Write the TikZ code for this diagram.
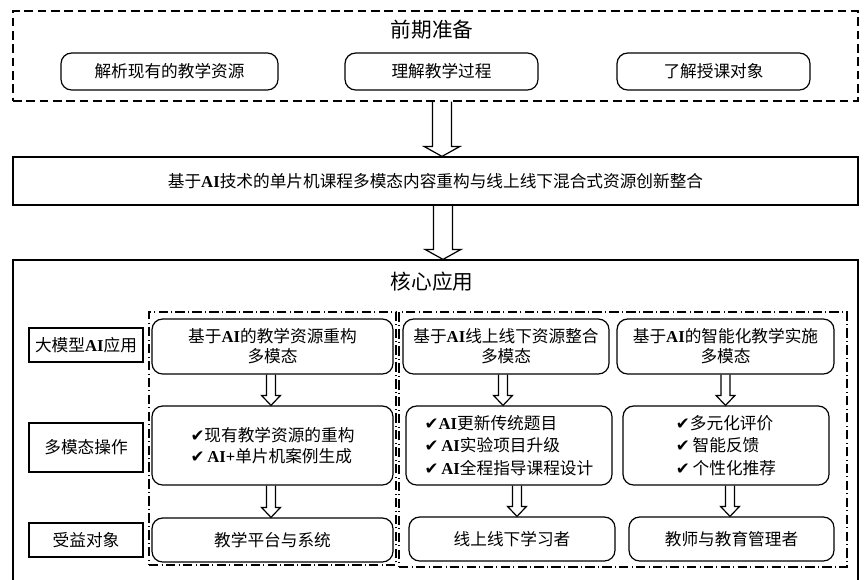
\documentclass[tikz,border=0pt]{standalone}
\usepackage{fontspec}
\setmainfont{Noto Sans CJK SC}
\newfontfamily\timesfont{Liberation Serif}
\newfontfamily\symfont{DejaVu Sans}
\usetikzlibrary{calc}

\newcommand{\AI}{{\timesfont\bfseries AI}}
\newcommand{\tick}{{\symfont ✔}}
% hollow block arrow: from, to, x shift, half shaft, half head (all in px)
\newcommand{\hollowarrow}[5]{%
  \draw [arrowline] let \p1 = (#1.south), \p2 = (#2.north) in
    ({\x1+(#3-#4)*0.75pt}, \y1) -- ({\x1+(#3-#4)*0.75pt}, {\y2+7.5pt})
    -- ({\x1+(#3-#5)*0.75pt}, {\y2+7.5pt}) -- ({\x1+#3*0.75pt}, \y2)
    -- ({\x1+(#3+#5)*0.75pt}, {\y2+7.5pt}) -- ({\x1+(#3+#4)*0.75pt}, {\y2+7.5pt})
    -- ({\x1+(#3+#4)*0.75pt}, \y1);
}

\begin{document}
\begin{tikzpicture}[x=0.75pt, y=-0.75pt,
    every node/.style = {font=\fontsize{12.5}{15}\selectfont, inner sep=0pt, align=center},
    roundbox/.style = {draw, line width=0.9pt, rounded corners=8pt},
    plainbox/.style = {draw, line width=0.9pt},
    dashbox/.style = {draw, line width=1pt, dash pattern=on 6.5pt off 3.5pt},
    groupbox/.style = {draw, line width=0.8pt, dash pattern=on 7pt off 2.5pt on 0.7pt off 2.5pt},
    titletext/.style = {font=\fontsize{15.5}{18}\selectfont},
    arrowline/.style = {line width=0.9pt, line join=miter}]

    \useasboundingbox (0,0) rectangle (864,579);
    \clip (0,0) rectangle (864,579);

    % preparation
    \node (prep) at (435.5, 56) [dashbox, minimum width=633.75pt, minimum height=67.5pt] {};
    \node (preptitle) at (432, 30) [titletext] {前期准备};
    \node (analyse) at (169.5, 71.5) [roundbox, minimum width=162.75pt, minimum height=27.75pt] {解析现有的教学资源};
    \node (process) at (441.5, 71.5) [roundbox, minimum width=144.75pt, minimum height=27.75pt] {理解教学过程};
    \node (learners) at (713.5, 71.5) [roundbox, minimum width=144.75pt, minimum height=27.75pt] {了解授课对象};

    % restructuring
    \node (rebuild) at (435.5, 181) [plainbox, minimum width=633.75pt, minimum height=36pt]
        {基于\AI 技术的单片机课程多模态内容重构与线上线下混合式资源创新整合};

    % core application
    \node (core) at (435.5, 430) [plainbox, minimum width=633.75pt, minimum height=255pt] {};
    \node (coretitle) at (432, 282) [titletext] {核心应用};

    \node (rowapp) at (86, 345) [plainbox, minimum width=85.5pt, minimum height=25.5pt] {大模型\AI 应用};
    \node (rowop) at (86, 447.5) [plainbox, minimum width=85.5pt, minimum height=36.75pt] {多模态操作};
    \node (rowuser) at (86, 540) [plainbox, minimum width=85.5pt, minimum height=25.5pt] {受益对象};

    \node (groupa) at (272.5, 438.5) [groupbox, minimum width=185.25pt, minimum height=189.75pt] {};
    \node (groupb) at (623, 439.5) [groupbox, minimum width=336pt, minimum height=191.25pt] {};

    \node (resapp) at (272.5, 346.5) [roundbox, minimum width=180.75pt, minimum height=41.25pt]
        {基于\AI 的教学资源重构\\多模态};
    \node (resop) at (272.5, 445.5) [roundbox, minimum width=180.75pt, minimum height=59.25pt,
        align=left, font=\fontsize{12.5}{16}\selectfont]
        {\tick 现有教学资源的重构\\\tick\,\AI{\timesfont\bfseries +}单片机案例生成};
    \node (resuser) at (272.5, 540) [roundbox, minimum width=180.75pt, minimum height=33pt] {教学平台与系统};

    \node (mixapp) at (506, 346.5) [roundbox, minimum width=154.5pt, minimum height=41.25pt]
        {基于\AI 线上线下资源整合\\多模态};
    \node (mixop) at (509, 445.5) [roundbox, minimum width=154.5pt, minimum height=59.25pt,
        align=left, font=\fontsize{12.5}{17}\selectfont]
        {\tick\AI 更新传统题目\\\tick\,\AI 实验项目升级\\\tick\,\AI 全程指导课程设计};
    \node (mixuser) at (512, 539) [roundbox, minimum width=154.5pt, minimum height=33pt] {线上线下学习者};

    \node (smartapp) at (725.5, 346.5) [roundbox, minimum width=162.75pt, minimum height=41.25pt]
        {基于\AI 的智能化教学实施\\多模态};
    \node (smartop) at (726, 445.5) [roundbox, minimum width=154.5pt, minimum height=59.25pt,
        align=left, font=\fontsize{12.5}{17}\selectfont]
        {\tick 多元化评价\\\tick\,智能反馈\\\tick\,个性化推荐};
    \node (smartuser) at (731.5, 539) [roundbox, minimum width=153.75pt, minimum height=33pt] {教师与教育管理者};

    % arrows
    \hollowarrow{prep}{rebuild}{6.5}{9.5}{18}
    \hollowarrow{rebuild}{core}{7.5}{9.5}{18}

    \hollowarrow{resapp}{resop}{-1.5}{4.5}{9.5}
    \hollowarrow{resop}{resuser}{-1.5}{4.5}{9.5}
    \hollowarrow{mixapp}{mixop}{-3}{4.5}{9.5}
    \hollowarrow{mixop}{mixuser}{8}{4.5}{9.5}
    \hollowarrow{smartapp}{smartop}{0}{4.5}{9.5}
    \hollowarrow{smartop}{smartuser}{4}{4.5}{9.5}
\end{tikzpicture}
\end{document}
